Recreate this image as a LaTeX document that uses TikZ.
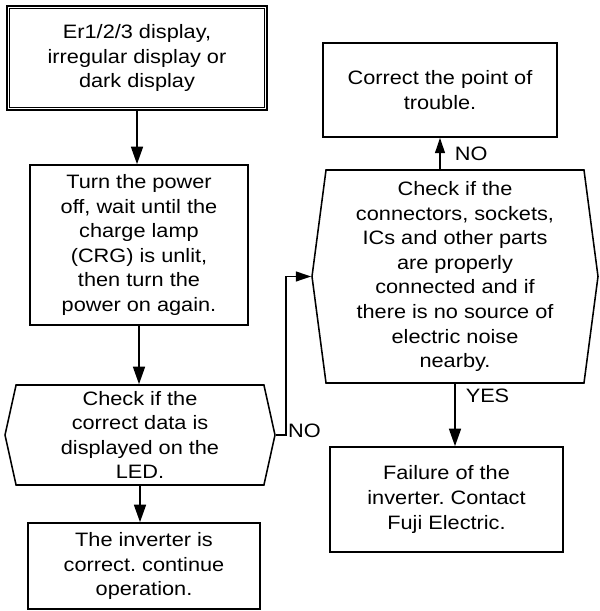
\documentclass[tikz,border=0pt]{standalone}
\usepackage{fontspec}
\setmainfont{Liberation Sans}[FakeStretch=1.12]
\frenchspacing
\usetikzlibrary{arrows.meta,shapes.symbols,calc}
\tikzset{
  box/.style={draw, align=center, font=\fontsize{13.8}{17.5}\selectfont,
              line width=1.1pt, inner sep=2pt},
  dbox/.style={box, signal, signal to=east and west},
  arr/.style={-{Triangle[length=12.5pt,width=8.5pt]}, line width=1.3pt},
  sarr/.style={-{Triangle[length=11pt,width=7pt]}, line width=1.3pt},
  lbl/.style={font=\fontsize{13.8}{16}\selectfont, inner sep=1pt},
}

\begin{document}
\begin{tikzpicture}
  \useasboundingbox (0,0) rectangle (14.975,15.275);

  % left column
  \node[box, line width=1.8pt, minimum width=6.5cm, minimum height=2.6cm] (start) at (3.425,13.825)
      {Er1/2/3 display,\\irregular display or\\dark display};
  \draw[line width=0.7pt] ([shift={(0.09,0.09)}]start.south west) rectangle ([shift={(-0.09,-0.09)}]start.north east);
  \node[box, minimum width=5.45cm, minimum height=4cm] (power) at (3.475,9.15)
      {Turn the power\\off, wait until the\\charge lamp\\(CRG) is unlit,\\then turn the\\power on again.};
  \node[dbox, signal pointer angle=155, minimum width=6.75cm, minimum height=2.5cm] (chk) at (3.5,4.4)
      {Check if the\\correct data is\\displayed on the\\LED.};
  \node[box, minimum width=5.8cm, minimum height=2.15cm] (inv) at (3.6,1.125)
      {The inverter is\\correct. continue\\operation.};

  % right column
  \node[box, minimum width=5.85cm, minimum height=2.35cm] (fix) at (11,13.025)
      {Correct the point of\\trouble.};
  \node[dbox, signal pointer angle=165, minimum width=7.15cm, minimum height=5.325cm] (hw) at (11.375,8.3625)
      {Check if the\\connectors, sockets,\\ICs and other parts\\are properly\\connected and if\\there is no source of\\electric noise\\nearby.};
  \node[box, minimum width=5.825cm, minimum height=2.625cm] (fail) at (11.1625,2.7875)
      {Failure of the\\inverter. Contact\\Fuji Electric.};

  \draw[arr] (start.south) -- (start.south |- power.north);
  \draw[arr] (power.south) -- (power.south |- chk.north);
  \draw[arr] (chk.south) -- (chk.south |- inv.north);
  \draw[sarr] (chk.east) -- ++(0.25,0) node[lbl, anchor=west, yshift=3pt] {NO} |- (hw.west);
  \draw[sarr] (fix.south |- hw.north) -- node[lbl, right, xshift=9pt] {NO} (fix.south);
  \draw[arr] (hw.south) -- node[lbl, anchor=north west, pos=0, xshift=6pt, yshift=-2pt] {YES} (hw.south |- fail.north);
\end{tikzpicture}
\end{document}
